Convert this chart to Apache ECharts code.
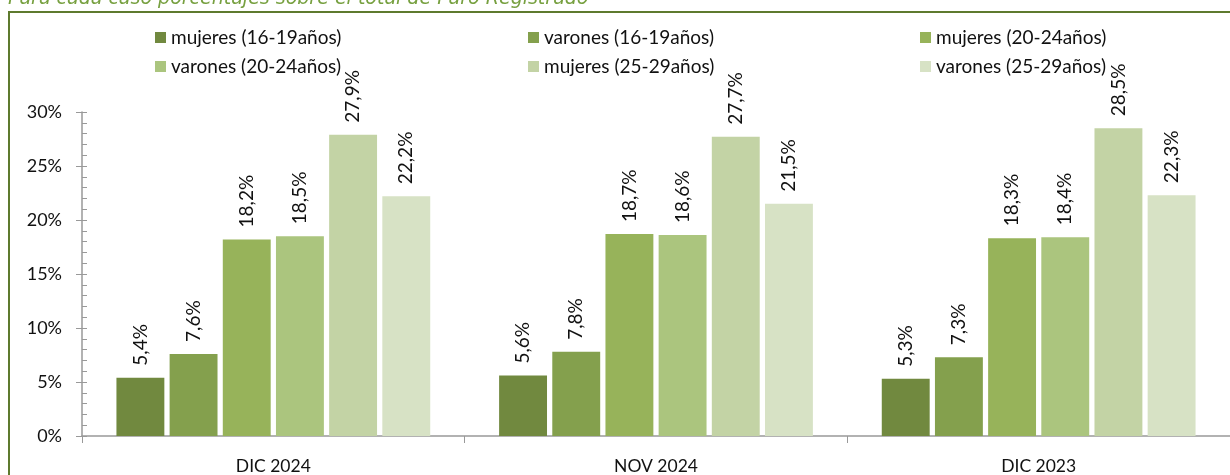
<!DOCTYPE html>
<html>
<head>
<meta charset="utf-8">
<script src="https://cdn.jsdelivr.net/npm/echarts@6/dist/echarts.min.js"></script>
<style>
  html, body { margin: 0; padding: 0; background: #fff; }
  #chart { width: 1230px; height: 475px; }
</style>
</head>
<body>
<div id="chart"></div>
<script>
var categories = ['DIC 2024', 'NOV 2024', 'DIC 2023'];
var seriesNames = ['mujeres (16-19años)', 'varones (16-19años)', 'mujeres (20-24años)',
                   'varones (20-24años)', 'mujeres (25-29años)', 'varones (25-29años)'];
var muj1619 = [5.4, 5.6, 5.3];
var var1619 = [7.6, 7.8, 7.3];
var muj2024 = [18.2, 18.7, 18.3];
var var2024 = [18.5, 18.6, 18.4];
var muj2529 = [27.9, 27.7, 28.5];
var var2529 = [22.2, 21.5, 22.3];
var seriesData = [muj1619, var1619, muj2024, var2024, muj2529, var2529];
var colors = ['#71893f', '#84a04d', '#97b35a', '#abc57e', '#c3d3a5', '#d7e2c5'];
var subtitle = 'Para cada caso porcentajes sobre el total de Paro Registrado';

var font = 'Lato, "Open Sans", sans-serif';
var chart = echarts.init(document.getElementById('chart'));

function legendCol(left, names) {
    return {
        orient: 'vertical', left: left, top: 28, itemGap: 10, padding: 0,
        itemWidth: 11, itemHeight: 11, icon: 'rect',
        data: names,
        textStyle: { fontFamily: font, fontSize: 19, color: '#111' }
    };
}

var series = seriesData.map(function (d, i) {
    return {
        name: seriesNames[i], type: 'bar', data: d,
        barGap: '11%', barCategoryGap: '18%',
        itemStyle: { color: colors[i] },
        label: {
            show: true, position: 'top', rotate: 90, distance: 12,
            align: 'left', verticalAlign: 'middle',
            fontFamily: font, fontSize: 19, color: '#111',
            formatter: function (p) { return p.value.toFixed(1).replace('.', ',') + '%'; }
        }
    };
});

chart.setOption({
    animation: false,
    color: colors,
    graphic: [
        { type: 'rect', shape: { x: 9, y: 12, width: 1240, height: 500 },
          style: { fill: 'none', stroke: '#5e7a2e', lineWidth: 2 } },
        { type: 'text', left: 8, top: -10,
          style: { text: subtitle, fill: '#77a040', font: 'italic 19px "DejaVu Sans"' } }
    ],
    legend: [
        legendCol(155, [seriesNames[0], seriesNames[3]]),
        legendCol(528, [seriesNames[1], seriesNames[4]]),
        legendCol(920, [seriesNames[2], seriesNames[5]])
    ],
    grid: { left: 82, right: 0, top: 112, bottom: 39, containLabel: false },
    xAxis: {
        type: 'category', data: categories,
        axisLine: { lineStyle: { color: '#999', width: 1.5 } },
        axisTick: { show: true, length: 7, lineStyle: { color: '#999' } },
        axisLabel: { fontFamily: font, fontSize: 17.5, color: '#111', margin: 21 }
    },
    yAxis: [{
        type: 'value', min: 0, max: 30, interval: 5,
        axisLine: { show: true, lineStyle: { color: '#999', width: 1.5 } },
        axisTick: { show: true, length: 6, lineStyle: { color: '#999' } },
        splitLine: { show: false },
        axisLabel: { fontFamily: font, fontSize: 18, color: '#111', margin: 20,
                     formatter: '{value}%' }
    }, {
        type: 'value', min: 0, max: 30, interval: 5, position: 'left',
        axisLine: { show: false },
        axisTick: { show: true, inside: true, length: 5, lineStyle: { color: '#999' } },
        minorTick: { show: true, splitNumber: 5, length: 5, lineStyle: { color: '#999' } },
        splitLine: { show: false },
        axisLabel: { show: false }
    }],
    series: series
});
</script>
</body>
</html>
